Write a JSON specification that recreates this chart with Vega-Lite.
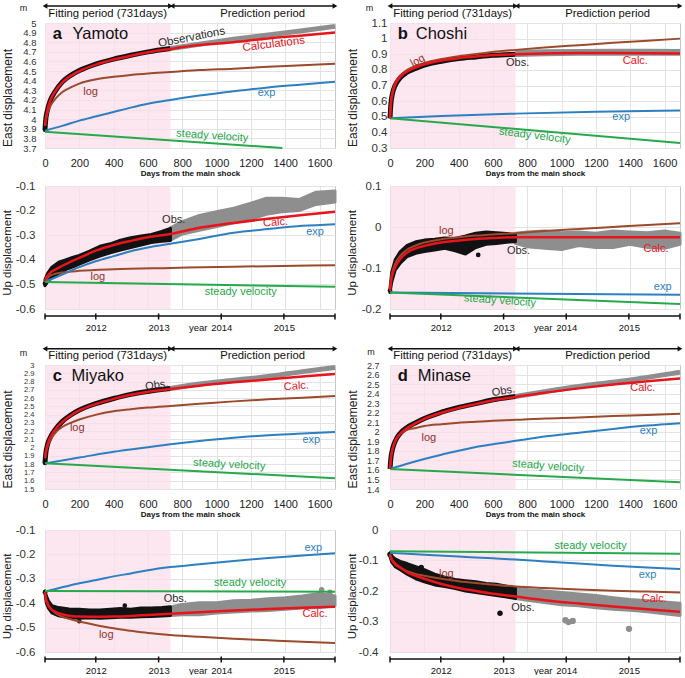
{
"$schema":"https://vega.github.io/schema/vega-lite/v6.json",
"padding":{"left":0,"top":2,"right":0,"bottom":0},
"config":{"font":"Liberation Sans","view":{"stroke":"#c6c6c6"},"axis":{"gridColor":"#e3e3e3","labelColor":"#333","titleColor":"#222","titleFontWeight":"normal","labelFont":"Liberation Sans","titleFont":"Liberation Sans"},"text":{"font":"Liberation Sans"}},
"datasets":{
"fit":[{"a":0,"b":731}],
"span":[{"a":0,"b":1690}],
"yrs":[{"d":0},{"d":296},{"d":662},{"d":1027},{"d":1392},{"d":1690}],
"arr":[{"a":0,"b":731},{"a":741,"b":1690}],
"arrt":[{"c":365,"t":"Fitting period  (731days)"},{"c":1268,"t":"Prediction period"}],
"nm":[{"p":"aE","l":"a","n":"Yamoto","u":"m"},{"p":"bE","l":"b","n":"Choshi","u":"m"},{"p":"cE","l":"c","n":"Miyako","u":"m"},{"p":"dE","l":"d","n":"Minase","u":"m"}],
"dots":[{"p":"aE","s":"fit","d":0,"v":3.89},{"p":"cE","s":"fit","d":0,"v":1.815},{"p":"aU","s":"fit","d":0,"v":-0.497},{"p":"bU","s":"fit","d":0,"v":-0.155},{"p":"bU","s":"fit","d":514,"v":-0.068},{"p":"cU","s":"fit","d":0,"v":-0.355},{"p":"cU","s":"fit","d":200,"v":-0.474},{"p":"cU","s":"fit","d":465,"v":-0.41},{"p":"cU","s":"pred","d":1612,"v":-0.345},{"p":"cU","s":"pred","d":1660,"v":-0.355},{"p":"dU","s":"fit","d":0,"v":-0.08},{"p":"dU","s":"fit","d":182,"v":-0.123},{"p":"dU","s":"fit","d":641,"v":-0.273},{"p":"dU","s":"pred","d":1022,"v":-0.296},{"p":"dU","s":"pred","d":1040,"v":-0.302},{"p":"dU","s":"pred","d":1065,"v":-0.298},{"p":"dU","s":"pred","d":1393,"v":-0.324},{"p":"dU","s":"pred","d":1600,"v":-0.262}],
"lab":[
{"p":"aE","k":"obs","t":"Observations","d":855,"v":4.847},{"p":"aE","k":"calc","t":"Calculations","d":1333,"v":4.778},{"p":"aE","k":"log","t":"log","d":266,"v":4.286},{"p":"aE","k":"exp","t":"exp","d":1291,"v":4.275},{"p":"aE","k":"steady","t":"steady velocity","d":975,"v":3.825},
{"p":"bE","k":"log","t":"log","d":162,"v":0.857},{"p":"bE","k":"obs","t":"Obs.","d":744,"v":0.846},{"p":"bE","k":"calc","t":"Calc.","d":1430,"v":0.857},{"p":"bE","k":"exp","t":"exp","d":1347,"v":0.498},{"p":"bE","k":"steady","t":"steady velocity","d":844,"v":0.377},
{"p":"cE","k":"obs","t":"Obs.","d":652,"v":2.754},{"p":"cE","k":"calc","t":"Calc.","d":1465,"v":2.742},{"p":"cE","k":"log","t":"log","d":188,"v":2.238},{"p":"cE","k":"exp","t":"exp","d":1552,"v":2.096},{"p":"cE","k":"steady","t":"steady velocity","d":1074,"v":1.794},
{"p":"dE","k":"obs","t":"Obs.","d":661,"v":2.424},{"p":"dE","k":"calc","t":"Calc.","d":1473,"v":2.459},{"p":"dE","k":"log","t":"log","d":226,"v":1.935},{"p":"dE","k":"exp","t":"exp","d":1507,"v":2.005},{"p":"dE","k":"steady","t":"steady velocity","d":922,"v":1.638},
{"p":"aU","k":"obs","t":"Obs.","d":750,"v":-0.239},{"p":"aU","k":"calc","t":"Calc.","d":1344,"v":-0.249},{"p":"aU","k":"exp","t":"exp","d":1574,"v":-0.289},{"p":"aU","k":"log","t":"log","d":308,"v":-0.468},{"p":"aU","k":"steady","t":"steady velocity","d":1141,"v":-0.53},
{"p":"bU","k":"log","t":"log","d":328,"v":-0.0095},{"p":"bU","k":"obs","t":"Obs.","d":749,"v":-0.058},{"p":"bU","k":"calc","t":"Calc.","d":1550,"v":-0.054},{"p":"bU","k":"exp","t":"exp","d":1589,"v":-0.147},{"p":"bU","k":"steady","t":"steady velocity","d":641,"v":-0.18},
{"p":"cU","k":"exp","t":"exp","d":1564,"v":-0.172},{"p":"cU","k":"steady","t":"steady velocity","d":1195,"v":-0.319},{"p":"cU","k":"obs","t":"Obs.","d":759,"v":-0.381},{"p":"cU","k":"calc","t":"Calc.","d":1574,"v":-0.4425},{"p":"cU","k":"log","t":"log","d":357,"v":-0.532},
{"p":"dU","k":"steady","t":"steady velocity","d":1169,"v":-0.052},{"p":"dU","k":"exp","t":"exp","d":1501,"v":-0.147},{"p":"dU","k":"log","t":"log","d":328,"v":-0.144},{"p":"dU","k":"calc","t":"Calc.","d":1540,"v":-0.225},{"p":"dU","k":"obs","t":"Obs.","d":774,"v":-0.257}],
"band":[
{"p":"aU","s":"fit","d":0,"lo":-0.505,"hi":-0.48},{"p":"aU","s":"fit","d":15,"lo":-0.49,"hi":-0.455},{"p":"aU","s":"fit","d":40,"lo":-0.47,"hi":-0.43},{"p":"aU","s":"fit","d":80,"lo":-0.455,"hi":-0.41},{"p":"aU","s":"fit","d":120,"lo":-0.44,"hi":-0.4},{"p":"aU","s":"fit","d":160,"lo":-0.43,"hi":-0.39},{"p":"aU","s":"fit","d":200,"lo":-0.418,"hi":-0.382},{"p":"aU","s":"fit","d":260,"lo":-0.4,"hi":-0.365},{"p":"aU","s":"fit","d":320,"lo":-0.385,"hi":-0.345},{"p":"aU","s":"fit","d":380,"lo":-0.372,"hi":-0.335},{"p":"aU","s":"fit","d":440,"lo":-0.36,"hi":-0.32},{"p":"aU","s":"fit","d":500,"lo":-0.35,"hi":-0.31},{"p":"aU","s":"fit","d":560,"lo":-0.34,"hi":-0.303},{"p":"aU","s":"fit","d":620,"lo":-0.33,"hi":-0.297},{"p":"aU","s":"fit","d":680,"lo":-0.325,"hi":-0.285},{"p":"aU","s":"fit","d":731,"lo":-0.322,"hi":-0.272},
{"p":"aU","s":"pred","d":731,"lo":-0.32,"hi":-0.27},{"p":"aU","s":"pred","d":800,"lo":-0.295,"hi":-0.245},{"p":"aU","s":"pred","d":900,"lo":-0.28,"hi":-0.22},{"p":"aU","s":"pred","d":1000,"lo":-0.265,"hi":-0.205},{"p":"aU","s":"pred","d":1100,"lo":-0.25,"hi":-0.19},{"p":"aU","s":"pred","d":1200,"lo":-0.235,"hi":-0.17},{"p":"aU","s":"pred","d":1290,"lo":-0.215,"hi":-0.15},{"p":"aU","s":"pred","d":1380,"lo":-0.205,"hi":-0.15},{"p":"aU","s":"pred","d":1480,"lo":-0.2,"hi":-0.155},{"p":"aU","s":"pred","d":1580,"lo":-0.175,"hi":-0.125},{"p":"aU","s":"pred","d":1690,"lo":-0.165,"hi":-0.12},
{"p":"bU","s":"fit","d":0,"lo":-0.16,"hi":-0.15},{"p":"bU","s":"fit","d":10,"lo":-0.135,"hi":-0.11},{"p":"bU","s":"fit","d":30,"lo":-0.105,"hi":-0.08},{"p":"bU","s":"fit","d":60,"lo":-0.088,"hi":-0.06},{"p":"bU","s":"fit","d":100,"lo":-0.072,"hi":-0.045},{"p":"bU","s":"fit","d":150,"lo":-0.064,"hi":-0.036},{"p":"bU","s":"fit","d":200,"lo":-0.06,"hi":-0.032},{"p":"bU","s":"fit","d":260,"lo":-0.056,"hi":-0.03},{"p":"bU","s":"fit","d":320,"lo":-0.052,"hi":-0.027},{"p":"bU","s":"fit","d":380,"lo":-0.058,"hi":-0.028},{"p":"bU","s":"fit","d":440,"lo":-0.066,"hi":-0.022},{"p":"bU","s":"fit","d":500,"lo":-0.05,"hi":-0.015},{"p":"bU","s":"fit","d":560,"lo":-0.042,"hi":-0.012},{"p":"bU","s":"fit","d":620,"lo":-0.04,"hi":-0.014},{"p":"bU","s":"fit","d":680,"lo":-0.037,"hi":-0.016},{"p":"bU","s":"fit","d":731,"lo":-0.036,"hi":-0.018},
{"p":"bU","s":"pred","d":731,"lo":-0.04,"hi":-0.015},{"p":"bU","s":"pred","d":800,"lo":-0.048,"hi":-0.012},{"p":"bU","s":"pred","d":900,"lo":-0.052,"hi":-0.01},{"p":"bU","s":"pred","d":1000,"lo":-0.055,"hi":-0.014},{"p":"bU","s":"pred","d":1100,"lo":-0.045,"hi":-0.012},{"p":"bU","s":"pred","d":1200,"lo":-0.05,"hi":-0.015},{"p":"bU","s":"pred","d":1300,"lo":-0.05,"hi":-0.01},{"p":"bU","s":"pred","d":1400,"lo":-0.042,"hi":-0.012},{"p":"bU","s":"pred","d":1500,"lo":-0.05,"hi":-0.014},{"p":"bU","s":"pred","d":1600,"lo":-0.052,"hi":-0.01},{"p":"bU","s":"pred","d":1690,"lo":-0.042,"hi":-0.015},
{"p":"cU","s":"fit","d":0,"lo":-0.36,"hi":-0.35},{"p":"cU","s":"fit","d":8,"lo":-0.4,"hi":-0.37},{"p":"cU","s":"fit","d":20,"lo":-0.42,"hi":-0.39},{"p":"cU","s":"fit","d":40,"lo":-0.44,"hi":-0.41},{"p":"cU","s":"fit","d":80,"lo":-0.452,"hi":-0.418},{"p":"cU","s":"fit","d":140,"lo":-0.46,"hi":-0.424},{"p":"cU","s":"fit","d":200,"lo":-0.462,"hi":-0.425},{"p":"cU","s":"fit","d":260,"lo":-0.46,"hi":-0.428},{"p":"cU","s":"fit","d":320,"lo":-0.462,"hi":-0.428},{"p":"cU","s":"fit","d":380,"lo":-0.46,"hi":-0.425},{"p":"cU","s":"fit","d":440,"lo":-0.458,"hi":-0.422},{"p":"cU","s":"fit","d":500,"lo":-0.458,"hi":-0.425},{"p":"cU","s":"fit","d":560,"lo":-0.456,"hi":-0.42},{"p":"cU","s":"fit","d":620,"lo":-0.455,"hi":-0.42},{"p":"cU","s":"fit","d":680,"lo":-0.452,"hi":-0.418},{"p":"cU","s":"fit","d":731,"lo":-0.45,"hi":-0.415},
{"p":"cU","s":"pred","d":731,"lo":-0.45,"hi":-0.415},{"p":"cU","s":"pred","d":800,"lo":-0.447,"hi":-0.405},{"p":"cU","s":"pred","d":900,"lo":-0.447,"hi":-0.398},{"p":"cU","s":"pred","d":1000,"lo":-0.44,"hi":-0.398},{"p":"cU","s":"pred","d":1100,"lo":-0.436,"hi":-0.39},{"p":"cU","s":"pred","d":1200,"lo":-0.432,"hi":-0.388},{"p":"cU","s":"pred","d":1300,"lo":-0.43,"hi":-0.382},{"p":"cU","s":"pred","d":1400,"lo":-0.425,"hi":-0.378},{"p":"cU","s":"pred","d":1500,"lo":-0.42,"hi":-0.37},{"p":"cU","s":"pred","d":1600,"lo":-0.418,"hi":-0.36},{"p":"cU","s":"pred","d":1690,"lo":-0.41,"hi":-0.37},
{"p":"dU","s":"fit","d":0,"lo":-0.088,"hi":-0.075},{"p":"dU","s":"fit","d":10,"lo":-0.105,"hi":-0.085},{"p":"dU","s":"fit","d":30,"lo":-0.12,"hi":-0.095},{"p":"dU","s":"fit","d":60,"lo":-0.13,"hi":-0.103},{"p":"dU","s":"fit","d":100,"lo":-0.145,"hi":-0.11},{"p":"dU","s":"fit","d":150,"lo":-0.16,"hi":-0.12},{"p":"dU","s":"fit","d":200,"lo":-0.17,"hi":-0.13},{"p":"dU","s":"fit","d":260,"lo":-0.18,"hi":-0.145},{"p":"dU","s":"fit","d":320,"lo":-0.185,"hi":-0.155},{"p":"dU","s":"fit","d":380,"lo":-0.192,"hi":-0.162},{"p":"dU","s":"fit","d":440,"lo":-0.2,"hi":-0.166},{"p":"dU","s":"fit","d":500,"lo":-0.205,"hi":-0.17},{"p":"dU","s":"fit","d":560,"lo":-0.21,"hi":-0.175},{"p":"dU","s":"fit","d":620,"lo":-0.215,"hi":-0.178},{"p":"dU","s":"fit","d":680,"lo":-0.22,"hi":-0.184},{"p":"dU","s":"fit","d":731,"lo":-0.225,"hi":-0.19},
{"p":"dU","s":"pred","d":731,"lo":-0.225,"hi":-0.19},{"p":"dU","s":"pred","d":800,"lo":-0.23,"hi":-0.195},{"p":"dU","s":"pred","d":900,"lo":-0.238,"hi":-0.2},{"p":"dU","s":"pred","d":1000,"lo":-0.245,"hi":-0.205},{"p":"dU","s":"pred","d":1100,"lo":-0.248,"hi":-0.21},{"p":"dU","s":"pred","d":1200,"lo":-0.255,"hi":-0.215},{"p":"dU","s":"pred","d":1300,"lo":-0.26,"hi":-0.222},{"p":"dU","s":"pred","d":1400,"lo":-0.263,"hi":-0.228},{"p":"dU","s":"pred","d":1500,"lo":-0.268,"hi":-0.232},{"p":"dU","s":"pred","d":1600,"lo":-0.275,"hi":-0.236},{"p":"dU","s":"pred","d":1690,"lo":-0.28,"hi":-0.24}],
"cur":[
{"p":"aE","s":"calc","d":0,"v":3.93},{"p":"aE","s":"calc","d":5,"v":4.0},{"p":"aE","s":"calc","d":15,"v":4.1},{"p":"aE","s":"calc","d":30,"v":4.19},{"p":"aE","s":"calc","d":60,"v":4.29},{"p":"aE","s":"calc","d":100,"v":4.38},{"p":"aE","s":"calc","d":150,"v":4.45},{"p":"aE","s":"calc","d":200,"v":4.5},{"p":"aE","s":"calc","d":300,"v":4.57},{"p":"aE","s":"calc","d":400,"v":4.62},{"p":"aE","s":"calc","d":500,"v":4.66},{"p":"aE","s":"calc","d":600,"v":4.695},{"p":"aE","s":"calc","d":731,"v":4.73},{"p":"aE","s":"calc","d":900,"v":4.77},{"p":"aE","s":"calc","d":1100,"v":4.8},{"p":"aE","s":"calc","d":1300,"v":4.84},{"p":"aE","s":"calc","d":1500,"v":4.87},{"p":"aE","s":"calc","d":1690,"v":4.9},
{"p":"aE","s":"log","d":0,"v":3.93},{"p":"aE","s":"log","d":5,"v":3.99},{"p":"aE","s":"log","d":15,"v":4.06},{"p":"aE","s":"log","d":30,"v":4.13},{"p":"aE","s":"log","d":60,"v":4.21},{"p":"aE","s":"log","d":100,"v":4.28},{"p":"aE","s":"log","d":150,"v":4.33},{"p":"aE","s":"log","d":200,"v":4.37},{"p":"aE","s":"log","d":300,"v":4.415},{"p":"aE","s":"log","d":400,"v":4.44},{"p":"aE","s":"log","d":500,"v":4.46},{"p":"aE","s":"log","d":600,"v":4.475},{"p":"aE","s":"log","d":731,"v":4.49},{"p":"aE","s":"log","d":900,"v":4.51},{"p":"aE","s":"log","d":1100,"v":4.525},{"p":"aE","s":"log","d":1300,"v":4.545},{"p":"aE","s":"log","d":1500,"v":4.56},{"p":"aE","s":"log","d":1690,"v":4.575},
{"p":"aE","s":"obsfit","d":0,"v":3.89},{"p":"aE","s":"obsfit","d":3,"v":3.97},{"p":"aE","s":"obsfit","d":15,"v":4.1},{"p":"aE","s":"obsfit","d":30,"v":4.19},{"p":"aE","s":"obsfit","d":60,"v":4.29},{"p":"aE","s":"obsfit","d":100,"v":4.385},{"p":"aE","s":"obsfit","d":150,"v":4.455},{"p":"aE","s":"obsfit","d":200,"v":4.505},{"p":"aE","s":"obsfit","d":300,"v":4.575},{"p":"aE","s":"obsfit","d":400,"v":4.625},{"p":"aE","s":"obsfit","d":500,"v":4.665},{"p":"aE","s":"obsfit","d":600,"v":4.7},{"p":"aE","s":"obsfit","d":731,"v":4.735},
{"p":"aE","s":"obspred","d":731,"v":4.735},{"p":"aE","s":"obspred","d":900,"v":4.78},{"p":"aE","s":"obspred","d":1100,"v":4.83},{"p":"aE","s":"obspred","d":1300,"v":4.875},{"p":"aE","s":"obspred","d":1500,"v":4.92},{"p":"aE","s":"obspred","d":1690,"v":4.965},
{"p":"aE","s":"exp","d":0,"v":3.88},{"p":"aE","s":"exp","d":100,"v":3.93},{"p":"aE","s":"exp","d":200,"v":3.985},{"p":"aE","s":"exp","d":300,"v":4.03},{"p":"aE","s":"exp","d":400,"v":4.075},{"p":"aE","s":"exp","d":500,"v":4.12},{"p":"aE","s":"exp","d":600,"v":4.16},{"p":"aE","s":"exp","d":731,"v":4.2},{"p":"aE","s":"exp","d":900,"v":4.245},{"p":"aE","s":"exp","d":1100,"v":4.29},{"p":"aE","s":"exp","d":1300,"v":4.33},{"p":"aE","s":"exp","d":1500,"v":4.36},{"p":"aE","s":"exp","d":1690,"v":4.39},
{"p":"aE","s":"steady","d":0,"v":3.87},{"p":"aE","s":"steady","d":1383,"v":3.7},
{"p":"bE","s":"calc","d":0,"v":0.49},{"p":"bE","s":"calc","d":5,"v":0.58},{"p":"bE","s":"calc","d":15,"v":0.65},{"p":"bE","s":"calc","d":30,"v":0.705},{"p":"bE","s":"calc","d":60,"v":0.755},{"p":"bE","s":"calc","d":100,"v":0.79},{"p":"bE","s":"calc","d":150,"v":0.815},{"p":"bE","s":"calc","d":200,"v":0.835},{"p":"bE","s":"calc","d":300,"v":0.86},{"p":"bE","s":"calc","d":400,"v":0.875},{"p":"bE","s":"calc","d":500,"v":0.885},{"p":"bE","s":"calc","d":600,"v":0.895},{"p":"bE","s":"calc","d":731,"v":0.9},{"p":"bE","s":"calc","d":900,"v":0.905},{"p":"bE","s":"calc","d":1100,"v":0.908},{"p":"bE","s":"calc","d":1300,"v":0.908},{"p":"bE","s":"calc","d":1500,"v":0.907},{"p":"bE","s":"calc","d":1690,"v":0.905},
{"p":"bE","s":"log","d":0,"v":0.49},{"p":"bE","s":"log","d":5,"v":0.59},{"p":"bE","s":"log","d":15,"v":0.66},{"p":"bE","s":"log","d":30,"v":0.715},{"p":"bE","s":"log","d":60,"v":0.765},{"p":"bE","s":"log","d":100,"v":0.8},{"p":"bE","s":"log","d":150,"v":0.825},{"p":"bE","s":"log","d":200,"v":0.845},{"p":"bE","s":"log","d":300,"v":0.87},{"p":"bE","s":"log","d":400,"v":0.888},{"p":"bE","s":"log","d":500,"v":0.902},{"p":"bE","s":"log","d":600,"v":0.915},{"p":"bE","s":"log","d":731,"v":0.928},{"p":"bE","s":"log","d":900,"v":0.943},{"p":"bE","s":"log","d":1100,"v":0.958},{"p":"bE","s":"log","d":1300,"v":0.973},{"p":"bE","s":"log","d":1500,"v":0.987},{"p":"bE","s":"log","d":1690,"v":1.0},
{"p":"bE","s":"obsfit","d":0,"v":0.49},{"p":"bE","s":"obsfit","d":5,"v":0.58},{"p":"bE","s":"obsfit","d":15,"v":0.65},{"p":"bE","s":"obsfit","d":30,"v":0.7},{"p":"bE","s":"obsfit","d":60,"v":0.75},{"p":"bE","s":"obsfit","d":100,"v":0.785},{"p":"bE","s":"obsfit","d":150,"v":0.81},{"p":"bE","s":"obsfit","d":200,"v":0.83},{"p":"bE","s":"obsfit","d":300,"v":0.855},{"p":"bE","s":"obsfit","d":400,"v":0.872},{"p":"bE","s":"obsfit","d":500,"v":0.883},{"p":"bE","s":"obsfit","d":600,"v":0.893},{"p":"bE","s":"obsfit","d":731,"v":0.9},
{"p":"bE","s":"obspred","d":731,"v":0.905},{"p":"bE","s":"obspred","d":900,"v":0.91},{"p":"bE","s":"obspred","d":1100,"v":0.912},{"p":"bE","s":"obspred","d":1300,"v":0.913},{"p":"bE","s":"obspred","d":1500,"v":0.913},{"p":"bE","s":"obspred","d":1690,"v":0.912},
{"p":"bE","s":"exp","d":0,"v":0.49},{"p":"bE","s":"exp","d":300,"v":0.505},{"p":"bE","s":"exp","d":731,"v":0.52},{"p":"bE","s":"exp","d":1200,"v":0.532},{"p":"bE","s":"exp","d":1690,"v":0.54},
{"p":"bE","s":"steady","d":0,"v":0.49},{"p":"bE","s":"steady","d":1690,"v":0.332},
{"p":"cE","s":"calc","d":0,"v":1.88},{"p":"cE","s":"calc","d":5,"v":1.95},{"p":"cE","s":"calc","d":15,"v":2.04},{"p":"cE","s":"calc","d":30,"v":2.12},{"p":"cE","s":"calc","d":60,"v":2.22},{"p":"cE","s":"calc","d":100,"v":2.31},{"p":"cE","s":"calc","d":150,"v":2.39},{"p":"cE","s":"calc","d":200,"v":2.45},{"p":"cE","s":"calc","d":300,"v":2.53},{"p":"cE","s":"calc","d":400,"v":2.59},{"p":"cE","s":"calc","d":500,"v":2.64},{"p":"cE","s":"calc","d":600,"v":2.675},{"p":"cE","s":"calc","d":731,"v":2.71},{"p":"cE","s":"calc","d":900,"v":2.75},{"p":"cE","s":"calc","d":1100,"v":2.79},{"p":"cE","s":"calc","d":1300,"v":2.825},{"p":"cE","s":"calc","d":1500,"v":2.86},{"p":"cE","s":"calc","d":1690,"v":2.89},
{"p":"cE","s":"log","d":0,"v":1.87},{"p":"cE","s":"log","d":5,"v":1.93},{"p":"cE","s":"log","d":15,"v":2.01},{"p":"cE","s":"log","d":30,"v":2.09},{"p":"cE","s":"log","d":60,"v":2.18},{"p":"cE","s":"log","d":100,"v":2.25},{"p":"cE","s":"log","d":150,"v":2.3},{"p":"cE","s":"log","d":200,"v":2.34},{"p":"cE","s":"log","d":300,"v":2.4},{"p":"cE","s":"log","d":400,"v":2.44},{"p":"cE","s":"log","d":500,"v":2.465},{"p":"cE","s":"log","d":600,"v":2.485},{"p":"cE","s":"log","d":731,"v":2.505},{"p":"cE","s":"log","d":900,"v":2.53},{"p":"cE","s":"log","d":1100,"v":2.56},{"p":"cE","s":"log","d":1300,"v":2.585},{"p":"cE","s":"log","d":1500,"v":2.605},{"p":"cE","s":"log","d":1690,"v":2.625},
{"p":"cE","s":"obsfit","d":0,"v":1.815},{"p":"cE","s":"obsfit","d":3,"v":1.9},{"p":"cE","s":"obsfit","d":15,"v":2.04},{"p":"cE","s":"obsfit","d":30,"v":2.12},{"p":"cE","s":"obsfit","d":60,"v":2.22},{"p":"cE","s":"obsfit","d":100,"v":2.315},{"p":"cE","s":"obsfit","d":150,"v":2.395},{"p":"cE","s":"obsfit","d":200,"v":2.455},{"p":"cE","s":"obsfit","d":300,"v":2.535},{"p":"cE","s":"obsfit","d":400,"v":2.595},{"p":"cE","s":"obsfit","d":500,"v":2.645},{"p":"cE","s":"obsfit","d":600,"v":2.68},{"p":"cE","s":"obsfit","d":731,"v":2.715},
{"p":"cE","s":"obspred","d":731,"v":2.715},{"p":"cE","s":"obspred","d":900,"v":2.77},{"p":"cE","s":"obspred","d":1100,"v":2.815},{"p":"cE","s":"obspred","d":1300,"v":2.86},{"p":"cE","s":"obspred","d":1500,"v":2.92},{"p":"cE","s":"obspred","d":1690,"v":2.97},
{"p":"cE","s":"exp","d":0,"v":1.81},{"p":"cE","s":"exp","d":200,"v":1.88},{"p":"cE","s":"exp","d":400,"v":1.95},{"p":"cE","s":"exp","d":600,"v":2.005},{"p":"cE","s":"exp","d":731,"v":2.04},{"p":"cE","s":"exp","d":900,"v":2.08},{"p":"cE","s":"exp","d":1100,"v":2.12},{"p":"cE","s":"exp","d":1300,"v":2.15},{"p":"cE","s":"exp","d":1500,"v":2.17},{"p":"cE","s":"exp","d":1690,"v":2.19},
{"p":"cE","s":"steady","d":0,"v":1.81},{"p":"cE","s":"steady","d":1690,"v":1.63},
{"p":"dE","s":"calc","d":0,"v":1.61},{"p":"dE","s":"calc","d":5,"v":1.72},{"p":"dE","s":"calc","d":15,"v":1.82},{"p":"dE","s":"calc","d":30,"v":1.9},{"p":"dE","s":"calc","d":60,"v":1.98},{"p":"dE","s":"calc","d":100,"v":2.04},{"p":"dE","s":"calc","d":150,"v":2.09},{"p":"dE","s":"calc","d":200,"v":2.135},{"p":"dE","s":"calc","d":300,"v":2.2},{"p":"dE","s":"calc","d":400,"v":2.25},{"p":"dE","s":"calc","d":500,"v":2.29},{"p":"dE","s":"calc","d":600,"v":2.33},{"p":"dE","s":"calc","d":731,"v":2.365},{"p":"dE","s":"calc","d":900,"v":2.41},{"p":"dE","s":"calc","d":1100,"v":2.455},{"p":"dE","s":"calc","d":1300,"v":2.495},{"p":"dE","s":"calc","d":1500,"v":2.53},{"p":"dE","s":"calc","d":1690,"v":2.56},
{"p":"dE","s":"log","d":0,"v":1.61},{"p":"dE","s":"log","d":5,"v":1.72},{"p":"dE","s":"log","d":15,"v":1.82},{"p":"dE","s":"log","d":30,"v":1.9},{"p":"dE","s":"log","d":60,"v":1.975},{"p":"dE","s":"log","d":100,"v":2.02},{"p":"dE","s":"log","d":150,"v":2.04},{"p":"dE","s":"log","d":200,"v":2.06},{"p":"dE","s":"log","d":300,"v":2.08},{"p":"dE","s":"log","d":400,"v":2.095},{"p":"dE","s":"log","d":500,"v":2.105},{"p":"dE","s":"log","d":600,"v":2.115},{"p":"dE","s":"log","d":731,"v":2.125},{"p":"dE","s":"log","d":900,"v":2.14},{"p":"dE","s":"log","d":1100,"v":2.15},{"p":"dE","s":"log","d":1300,"v":2.165},{"p":"dE","s":"log","d":1500,"v":2.175},{"p":"dE","s":"log","d":1690,"v":2.19},
{"p":"dE","s":"obsfit","d":0,"v":1.61},{"p":"dE","s":"obsfit","d":5,"v":1.72},{"p":"dE","s":"obsfit","d":15,"v":1.82},{"p":"dE","s":"obsfit","d":30,"v":1.9},{"p":"dE","s":"obsfit","d":60,"v":1.985},{"p":"dE","s":"obsfit","d":100,"v":2.045},{"p":"dE","s":"obsfit","d":150,"v":2.095},{"p":"dE","s":"obsfit","d":200,"v":2.14},{"p":"dE","s":"obsfit","d":300,"v":2.205},{"p":"dE","s":"obsfit","d":400,"v":2.255},{"p":"dE","s":"obsfit","d":500,"v":2.295},{"p":"dE","s":"obsfit","d":600,"v":2.335},{"p":"dE","s":"obsfit","d":731,"v":2.37},
{"p":"dE","s":"obspred","d":731,"v":2.37},{"p":"dE","s":"obspred","d":900,"v":2.42},{"p":"dE","s":"obspred","d":1100,"v":2.475},{"p":"dE","s":"obspred","d":1300,"v":2.52},{"p":"dE","s":"obspred","d":1500,"v":2.57},{"p":"dE","s":"obspred","d":1690,"v":2.625},
{"p":"dE","s":"exp","d":0,"v":1.61},{"p":"dE","s":"exp","d":100,"v":1.665},{"p":"dE","s":"exp","d":200,"v":1.715},{"p":"dE","s":"exp","d":300,"v":1.76},{"p":"dE","s":"exp","d":400,"v":1.8},{"p":"dE","s":"exp","d":500,"v":1.84},{"p":"dE","s":"exp","d":600,"v":1.87},{"p":"dE","s":"exp","d":731,"v":1.905},{"p":"dE","s":"exp","d":900,"v":1.95},{"p":"dE","s":"exp","d":1100,"v":1.99},{"p":"dE","s":"exp","d":1300,"v":2.03},{"p":"dE","s":"exp","d":1500,"v":2.065},{"p":"dE","s":"exp","d":1690,"v":2.09},
{"p":"dE","s":"steady","d":0,"v":1.61},{"p":"dE","s":"steady","d":1690,"v":1.47},
{"p":"aU","s":"calc","d":0,"v":-0.485},{"p":"aU","s":"calc","d":5,"v":-0.475},{"p":"aU","s":"calc","d":15,"v":-0.465},{"p":"aU","s":"calc","d":30,"v":-0.453},{"p":"aU","s":"calc","d":60,"v":-0.44},{"p":"aU","s":"calc","d":100,"v":-0.425},{"p":"aU","s":"calc","d":150,"v":-0.407},{"p":"aU","s":"calc","d":200,"v":-0.392},{"p":"aU","s":"calc","d":300,"v":-0.362},{"p":"aU","s":"calc","d":400,"v":-0.34},{"p":"aU","s":"calc","d":500,"v":-0.323},{"p":"aU","s":"calc","d":600,"v":-0.308},{"p":"aU","s":"calc","d":731,"v":-0.295},{"p":"aU","s":"calc","d":900,"v":-0.27},{"p":"aU","s":"calc","d":1100,"v":-0.25},{"p":"aU","s":"calc","d":1300,"v":-0.233},{"p":"aU","s":"calc","d":1500,"v":-0.218},{"p":"aU","s":"calc","d":1690,"v":-0.205},
{"p":"aU","s":"exp","d":0,"v":-0.49},{"p":"aU","s":"exp","d":100,"v":-0.46},{"p":"aU","s":"exp","d":200,"v":-0.43},{"p":"aU","s":"exp","d":300,"v":-0.405},{"p":"aU","s":"exp","d":400,"v":-0.385},{"p":"aU","s":"exp","d":500,"v":-0.365},{"p":"aU","s":"exp","d":600,"v":-0.35},{"p":"aU","s":"exp","d":731,"v":-0.335},{"p":"aU","s":"exp","d":900,"v":-0.315},{"p":"aU","s":"exp","d":1100,"v":-0.29},{"p":"aU","s":"exp","d":1300,"v":-0.275},{"p":"aU","s":"exp","d":1500,"v":-0.262},{"p":"aU","s":"exp","d":1690,"v":-0.255},
{"p":"aU","s":"log","d":0,"v":-0.49},{"p":"aU","s":"log","d":15,"v":-0.475},{"p":"aU","s":"log","d":30,"v":-0.465},{"p":"aU","s":"log","d":60,"v":-0.457},{"p":"aU","s":"log","d":100,"v":-0.452},{"p":"aU","s":"log","d":200,"v":-0.445},{"p":"aU","s":"log","d":400,"v":-0.438},{"p":"aU","s":"log","d":731,"v":-0.433},{"p":"aU","s":"log","d":1100,"v":-0.428},{"p":"aU","s":"log","d":1690,"v":-0.422},
{"p":"aU","s":"steady","d":0,"v":-0.49},{"p":"aU","s":"steady","d":1690,"v":-0.51},
{"p":"bU","s":"calc","d":0,"v":-0.155},{"p":"bU","s":"calc","d":5,"v":-0.135},{"p":"bU","s":"calc","d":15,"v":-0.115},{"p":"bU","s":"calc","d":30,"v":-0.098},{"p":"bU","s":"calc","d":60,"v":-0.078},{"p":"bU","s":"calc","d":100,"v":-0.062},{"p":"bU","s":"calc","d":150,"v":-0.052},{"p":"bU","s":"calc","d":200,"v":-0.046},{"p":"bU","s":"calc","d":300,"v":-0.038},{"p":"bU","s":"calc","d":400,"v":-0.033},{"p":"bU","s":"calc","d":500,"v":-0.029},{"p":"bU","s":"calc","d":600,"v":-0.027},{"p":"bU","s":"calc","d":731,"v":-0.025},{"p":"bU","s":"calc","d":900,"v":-0.025},{"p":"bU","s":"calc","d":1100,"v":-0.025},{"p":"bU","s":"calc","d":1300,"v":-0.025},{"p":"bU","s":"calc","d":1500,"v":-0.025},{"p":"bU","s":"calc","d":1690,"v":-0.025},
{"p":"bU","s":"log","d":0,"v":-0.155},{"p":"bU","s":"log","d":5,"v":-0.13},{"p":"bU","s":"log","d":15,"v":-0.108},{"p":"bU","s":"log","d":30,"v":-0.09},{"p":"bU","s":"log","d":60,"v":-0.07},{"p":"bU","s":"log","d":100,"v":-0.055},{"p":"bU","s":"log","d":150,"v":-0.045},{"p":"bU","s":"log","d":200,"v":-0.038},{"p":"bU","s":"log","d":300,"v":-0.03},{"p":"bU","s":"log","d":400,"v":-0.025},{"p":"bU","s":"log","d":500,"v":-0.021},{"p":"bU","s":"log","d":600,"v":-0.018},{"p":"bU","s":"log","d":731,"v":-0.015},{"p":"bU","s":"log","d":900,"v":-0.01},{"p":"bU","s":"log","d":1100,"v":-0.005},{"p":"bU","s":"log","d":1300,"v":0.0},{"p":"bU","s":"log","d":1500,"v":0.005},{"p":"bU","s":"log","d":1690,"v":0.009},
{"p":"bU","s":"exp","d":0,"v":-0.16},{"p":"bU","s":"exp","d":1690,"v":-0.165},
{"p":"bU","s":"steady","d":0,"v":-0.16},{"p":"bU","s":"steady","d":1690,"v":-0.188},
{"p":"cU","s":"calc","d":0,"v":-0.355},{"p":"cU","s":"calc","d":5,"v":-0.38},{"p":"cU","s":"calc","d":15,"v":-0.4},{"p":"cU","s":"calc","d":30,"v":-0.42},{"p":"cU","s":"calc","d":60,"v":-0.435},{"p":"cU","s":"calc","d":100,"v":-0.445},{"p":"cU","s":"calc","d":150,"v":-0.452},{"p":"cU","s":"calc","d":200,"v":-0.455},{"p":"cU","s":"calc","d":300,"v":-0.456},{"p":"cU","s":"calc","d":400,"v":-0.455},{"p":"cU","s":"calc","d":500,"v":-0.452},{"p":"cU","s":"calc","d":600,"v":-0.448},{"p":"cU","s":"calc","d":731,"v":-0.443},{"p":"cU","s":"calc","d":900,"v":-0.437},{"p":"cU","s":"calc","d":1100,"v":-0.43},{"p":"cU","s":"calc","d":1300,"v":-0.424},{"p":"cU","s":"calc","d":1500,"v":-0.419},{"p":"cU","s":"calc","d":1690,"v":-0.415},
{"p":"cU","s":"log","d":0,"v":-0.355},{"p":"cU","s":"log","d":5,"v":-0.385},{"p":"cU","s":"log","d":15,"v":-0.405},{"p":"cU","s":"log","d":30,"v":-0.42},{"p":"cU","s":"log","d":60,"v":-0.44},{"p":"cU","s":"log","d":100,"v":-0.455},{"p":"cU","s":"log","d":150,"v":-0.466},{"p":"cU","s":"log","d":200,"v":-0.475},{"p":"cU","s":"log","d":300,"v":-0.49},{"p":"cU","s":"log","d":400,"v":-0.503},{"p":"cU","s":"log","d":500,"v":-0.513},{"p":"cU","s":"log","d":600,"v":-0.522},{"p":"cU","s":"log","d":731,"v":-0.53},{"p":"cU","s":"log","d":900,"v":-0.538},{"p":"cU","s":"log","d":1100,"v":-0.546},{"p":"cU","s":"log","d":1300,"v":-0.552},{"p":"cU","s":"log","d":1500,"v":-0.558},{"p":"cU","s":"log","d":1690,"v":-0.563},
{"p":"cU","s":"exp","d":0,"v":-0.352},{"p":"cU","s":"exp","d":100,"v":-0.335},{"p":"cU","s":"exp","d":200,"v":-0.318},{"p":"cU","s":"exp","d":300,"v":-0.305},{"p":"cU","s":"exp","d":400,"v":-0.29},{"p":"cU","s":"exp","d":500,"v":-0.278},{"p":"cU","s":"exp","d":600,"v":-0.265},{"p":"cU","s":"exp","d":731,"v":-0.252},{"p":"cU","s":"exp","d":900,"v":-0.24},{"p":"cU","s":"exp","d":1100,"v":-0.227},{"p":"cU","s":"exp","d":1300,"v":-0.215},{"p":"cU","s":"exp","d":1500,"v":-0.205},{"p":"cU","s":"exp","d":1690,"v":-0.195},
{"p":"cU","s":"steady","d":0,"v":-0.35},{"p":"cU","s":"steady","d":1690,"v":-0.353},
{"p":"dU","s":"calc","d":0,"v":-0.08},{"p":"dU","s":"calc","d":5,"v":-0.09},{"p":"dU","s":"calc","d":15,"v":-0.1},{"p":"dU","s":"calc","d":30,"v":-0.11},{"p":"dU","s":"calc","d":60,"v":-0.122},{"p":"dU","s":"calc","d":100,"v":-0.138},{"p":"dU","s":"calc","d":150,"v":-0.15},{"p":"dU","s":"calc","d":200,"v":-0.16},{"p":"dU","s":"calc","d":300,"v":-0.177},{"p":"dU","s":"calc","d":400,"v":-0.19},{"p":"dU","s":"calc","d":500,"v":-0.2},{"p":"dU","s":"calc","d":600,"v":-0.209},{"p":"dU","s":"calc","d":731,"v":-0.218},{"p":"dU","s":"calc","d":900,"v":-0.23},{"p":"dU","s":"calc","d":1100,"v":-0.241},{"p":"dU","s":"calc","d":1300,"v":-0.251},{"p":"dU","s":"calc","d":1500,"v":-0.26},{"p":"dU","s":"calc","d":1690,"v":-0.268},
{"p":"dU","s":"log","d":0,"v":-0.08},{"p":"dU","s":"log","d":5,"v":-0.092},{"p":"dU","s":"log","d":15,"v":-0.103},{"p":"dU","s":"log","d":30,"v":-0.113},{"p":"dU","s":"log","d":60,"v":-0.124},{"p":"dU","s":"log","d":100,"v":-0.135},{"p":"dU","s":"log","d":150,"v":-0.144},{"p":"dU","s":"log","d":200,"v":-0.15},{"p":"dU","s":"log","d":300,"v":-0.16},{"p":"dU","s":"log","d":400,"v":-0.168},{"p":"dU","s":"log","d":500,"v":-0.174},{"p":"dU","s":"log","d":600,"v":-0.179},{"p":"dU","s":"log","d":731,"v":-0.185},{"p":"dU","s":"log","d":900,"v":-0.19},{"p":"dU","s":"log","d":1100,"v":-0.195},{"p":"dU","s":"log","d":1300,"v":-0.199},{"p":"dU","s":"log","d":1500,"v":-0.202},{"p":"dU","s":"log","d":1690,"v":-0.205},
{"p":"dU","s":"exp","d":0,"v":-0.075},{"p":"dU","s":"exp","d":200,"v":-0.081},{"p":"dU","s":"exp","d":400,"v":-0.087},{"p":"dU","s":"exp","d":600,"v":-0.093},{"p":"dU","s":"exp","d":731,"v":-0.097},{"p":"dU","s":"exp","d":900,"v":-0.103},{"p":"dU","s":"exp","d":1100,"v":-0.11},{"p":"dU","s":"exp","d":1300,"v":-0.117},{"p":"dU","s":"exp","d":1500,"v":-0.123},{"p":"dU","s":"exp","d":1690,"v":-0.128},
{"p":"dU","s":"steady","d":0,"v":-0.07},{"p":"dU","s":"steady","d":1690,"v":-0.078}]
},
"spacing":13,
"vconcat":[
{"concat":[
{"width":290,"height":125,"layer":[
{"data":{"name":"fit"},"mark":{"type":"rect","color":"#fbdde9","opacity":0.75},"encoding":{"x":{"field":"a","type":"quantitative","scale":{"domain":[0,1690],"nice":false,"zero":false},"axis":{"values":[0,200,400,600,800,1000,1200,1400,1600],"tickCount":50,"format":"d","domain":false,"ticks":false,"labelOverlap":false,"title":"Days from the main shock","titleFontSize":8,"titleFontWeight":"bold","titlePadding":1,"titleColor":"#111","labelFontSize":11,"labelPadding":9,"labelFlush":false,"labelColor":"#222","grid":true}},"x2":{"field":"b"}}},
{"data":{"name":"cur"},"transform":[{"filter":"datum.p=='aE' && datum.s=='obspred'"}],"mark":{"type":"line","color":"#8e8e8e","strokeWidth":5,"interpolate":"monotone"},"encoding":{"x":{"field":"d","type":"quantitative"},"y":{"field":"v","type":"quantitative","scale":{"domain":[3.7,5],"nice":false,"zero":false},"axis":{"values":[3.7,3.8,3.9,4,4.1,4.2,4.3,4.4,4.5,4.6,4.7,4.8,4.9,5],"tickCount":50,"domain":false,"ticks":false,"labelExpr":"''+datum.value","title":"East displacement","titleFontSize":12,"titleX":-37.5,"titleY":74.5,"titleBaseline":"middle","labelFontSize":9.5,"labelPadding":9,"labelOverlap":false,"grid":true}}}},
{"data":{"name":"cur"},"transform":[{"filter":"datum.p=='aE' && datum.s=='obsfit'"}],"mark":{"type":"line","color":"#121212","strokeWidth":5,"interpolate":"monotone"},"encoding":{"x":{"field":"d","type":"quantitative"},"y":{"field":"v","type":"quantitative"}}},
{"data":{"name":"dots"},"transform":[{"filter":"datum.p=='aE'"}],"mark":{"type":"circle","color":"#121212","size":22,"opacity":1},"encoding":{"x":{"field":"d","type":"quantitative"},"y":{"field":"v","type":"quantitative"}}},
{"data":{"name":"cur"},"transform":[{"filter":"datum.p=='aE' && datum.s=='log'"}],"mark":{"type":"line","color":"#9b4a2c","strokeWidth":2,"interpolate":"monotone"},"encoding":{"x":{"field":"d","type":"quantitative"},"y":{"field":"v","type":"quantitative"}}},
{"data":{"name":"cur"},"transform":[{"filter":"datum.p=='aE' && datum.s=='exp'"}],"mark":{"type":"line","color":"#2d7fc1","strokeWidth":2,"interpolate":"monotone"},"encoding":{"x":{"field":"d","type":"quantitative"},"y":{"field":"v","type":"quantitative"}}},
{"data":{"name":"cur"},"transform":[{"filter":"datum.p=='aE' && datum.s=='steady'"}],"mark":{"type":"line","color":"#26a94a","strokeWidth":2},"encoding":{"x":{"field":"d","type":"quantitative"},"y":{"field":"v","type":"quantitative"}}},
{"data":{"name":"cur"},"transform":[{"filter":"datum.p=='aE' && datum.s=='calc'"}],"mark":{"type":"line","color":"#e8141c","strokeWidth":2.5,"interpolate":"monotone"},"encoding":{"x":{"field":"d","type":"quantitative"},"y":{"field":"v","type":"quantitative"}}},
{"data":{"name":"lab"},"transform":[{"filter":"datum.p=='aE' && (datum.k=='log' || datum.k=='exp')"}],"mark":{"type":"text","fontSize":11},"encoding":{"x":{"field":"d","type":"quantitative"},"y":{"field":"v","type":"quantitative"},"text":{"field":"t"},"color":{"field":"k","type":"nominal","scale":{"domain":["obs","calc","log","exp","steady"],"range":["#2a2a2a","#e8141c","#93332b","#2d7fc1","#24a848"]},"legend":null}}},
{"data":{"name":"lab"},"transform":[{"filter":"datum.p=='aE' && datum.k=='obs'"}],"mark":{"type":"text","fontSize":11.5,"angle":349,"color":"#2a2a2a"},"encoding":{"x":{"field":"d","type":"quantitative"},"y":{"field":"v","type":"quantitative"},"text":{"field":"t"}}},
{"data":{"name":"lab"},"transform":[{"filter":"datum.p=='aE' && datum.k=='calc'"}],"mark":{"type":"text","fontSize":11.5,"angle":353,"color":"#e8141c"},"encoding":{"x":{"field":"d","type":"quantitative"},"y":{"field":"v","type":"quantitative"},"text":{"field":"t"}}},
{"data":{"name":"lab"},"transform":[{"filter":"datum.p=='aE' && datum.k=='steady'"}],"mark":{"type":"text","fontSize":11,"angle":4,"color":"#24a848"},"encoding":{"x":{"field":"d","type":"quantitative"},"y":{"field":"v","type":"quantitative"},"text":{"field":"t"}}},
{"data":{"name":"arr"},"mark":{"type":"rule","color":"#111","strokeWidth":1.5},"encoding":{"x":{"field":"a","type":"quantitative"},"x2":{"field":"b"},"y":{"datum":5.177,"type":"quantitative"}}},
{"data":{"name":"arr"},"mark":{"type":"point","shape":"triangle-left","filled":true,"color":"#111","size":30,"opacity":1},"encoding":{"x":{"field":"a","type":"quantitative"},"y":{"datum":5.177,"type":"quantitative"}}},
{"data":{"name":"arr"},"mark":{"type":"point","shape":"triangle-right","filled":true,"color":"#111","size":30,"opacity":1},"encoding":{"x":{"field":"b","type":"quantitative"},"y":{"datum":5.177,"type":"quantitative"}}},
{"data":{"name":"arrt"},"mark":{"type":"text","fontSize":11.3,"color":"#111"},"encoding":{"x":{"field":"c","type":"quantitative"},"y":{"datum":5.097,"type":"quantitative"},"text":{"field":"t"}}},
{"data":{"name":"nm"},"transform":[{"filter":"datum.p=='aE'"}],"mark":{"type":"text","align":"left","fontSize":16.5,"fontWeight":"bold","color":"#111"},"encoding":{"x":{"datum":45,"type":"quantitative"},"y":{"datum":4.886,"type":"quantitative"},"text":{"field":"l"}}},
{"data":{"name":"nm"},"transform":[{"filter":"datum.p=='aE'"}],"mark":{"type":"text","align":"left","fontSize":16.5,"color":"#111"},"encoding":{"x":{"datum":160,"type":"quantitative"},"y":{"datum":4.886,"type":"quantitative"},"text":{"field":"n"}}},
{"data":{"name":"nm"},"transform":[{"filter":"datum.p=='aE'"}],"mark":{"type":"text","fontSize":9,"color":"#222"},"encoding":{"x":{"datum":-125,"type":"quantitative"},"y":{"datum":5.156,"type":"quantitative"},"text":{"field":"u"}}}
]},
{"width":290,"height":125,"layer":[
{"data":{"name":"fit"},"mark":{"type":"rect","color":"#fbdde9","opacity":0.75},"encoding":{"x":{"field":"a","type":"quantitative","scale":{"domain":[0,1690],"nice":false,"zero":false},"axis":{"values":[0,200,400,600,800,1000,1200,1400,1600],"tickCount":50,"format":"d","domain":false,"ticks":false,"labelOverlap":false,"title":"Days from the main shock","titleFontSize":8,"titleFontWeight":"bold","titlePadding":1,"titleColor":"#111","labelFontSize":11,"labelPadding":9,"labelFlush":false,"labelColor":"#222","grid":true}},"x2":{"field":"b"}}},
{"data":{"name":"cur"},"transform":[{"filter":"datum.p=='bE' && datum.s=='obspred'"}],"mark":{"type":"line","color":"#8e8e8e","strokeWidth":7,"interpolate":"monotone"},"encoding":{"x":{"field":"d","type":"quantitative"},"y":{"field":"v","type":"quantitative","scale":{"domain":[0.3,1.1],"nice":false,"zero":false},"axis":{"values":[0.3,0.4,0.5,0.6,0.7,0.8,0.9,1,1.1],"tickCount":50,"domain":false,"ticks":false,"labelExpr":"''+datum.value","title":"East displacement","titleFontSize":12,"titleX":-37.5,"titleY":74.5,"titleBaseline":"middle","labelFontSize":11.5,"labelPadding":3,"labelOverlap":false,"grid":true}}}},
{"data":{"name":"cur"},"transform":[{"filter":"datum.p=='bE' && datum.s=='obsfit'"}],"mark":{"type":"line","color":"#121212","strokeWidth":5,"interpolate":"monotone"},"encoding":{"x":{"field":"d","type":"quantitative"},"y":{"field":"v","type":"quantitative"}}},
{"data":{"name":"cur"},"transform":[{"filter":"datum.p=='bE' && datum.s=='log'"}],"mark":{"type":"line","color":"#9b4a2c","strokeWidth":2,"interpolate":"monotone"},"encoding":{"x":{"field":"d","type":"quantitative"},"y":{"field":"v","type":"quantitative"}}},
{"data":{"name":"cur"},"transform":[{"filter":"datum.p=='bE' && datum.s=='exp'"}],"mark":{"type":"line","color":"#2d7fc1","strokeWidth":2,"interpolate":"monotone"},"encoding":{"x":{"field":"d","type":"quantitative"},"y":{"field":"v","type":"quantitative"}}},
{"data":{"name":"cur"},"transform":[{"filter":"datum.p=='bE' && datum.s=='steady'"}],"mark":{"type":"line","color":"#26a94a","strokeWidth":2},"encoding":{"x":{"field":"d","type":"quantitative"},"y":{"field":"v","type":"quantitative"}}},
{"data":{"name":"cur"},"transform":[{"filter":"datum.p=='bE' && datum.s=='calc'"}],"mark":{"type":"line","color":"#e8141c","strokeWidth":2.5,"interpolate":"monotone"},"encoding":{"x":{"field":"d","type":"quantitative"},"y":{"field":"v","type":"quantitative"}}},
{"data":{"name":"lab"},"transform":[{"filter":"datum.p=='bE' && (datum.k=='obs' || datum.k=='calc' || datum.k=='exp')"}],"mark":{"type":"text","fontSize":11},"encoding":{"x":{"field":"d","type":"quantitative"},"y":{"field":"v","type":"quantitative"},"text":{"field":"t"},"color":{"field":"k","type":"nominal","scale":{"domain":["obs","calc","log","exp","steady"],"range":["#2a2a2a","#e8141c","#93332b","#2d7fc1","#24a848"]},"legend":null}}},
{"data":{"name":"lab"},"transform":[{"filter":"datum.p=='bE' && datum.k=='log'"}],"mark":{"type":"text","fontSize":11,"angle":332,"color":"#93332b"},"encoding":{"x":{"field":"d","type":"quantitative"},"y":{"field":"v","type":"quantitative"},"text":{"field":"t"}}},
{"data":{"name":"lab"},"transform":[{"filter":"datum.p=='bE' && datum.k=='steady'"}],"mark":{"type":"text","fontSize":11,"angle":7,"color":"#24a848"},"encoding":{"x":{"field":"d","type":"quantitative"},"y":{"field":"v","type":"quantitative"},"text":{"field":"t"}}},
{"data":{"name":"arr"},"mark":{"type":"rule","color":"#111","strokeWidth":1.5},"encoding":{"x":{"field":"a","type":"quantitative"},"x2":{"field":"b"},"y":{"datum":1.209,"type":"quantitative"}}},
{"data":{"name":"arr"},"mark":{"type":"point","shape":"triangle-left","filled":true,"color":"#111","size":30,"opacity":1},"encoding":{"x":{"field":"a","type":"quantitative"},"y":{"datum":1.209,"type":"quantitative"}}},
{"data":{"name":"arr"},"mark":{"type":"point","shape":"triangle-right","filled":true,"color":"#111","size":30,"opacity":1},"encoding":{"x":{"field":"b","type":"quantitative"},"y":{"datum":1.209,"type":"quantitative"}}},
{"data":{"name":"arrt"},"mark":{"type":"text","fontSize":11.3,"color":"#111"},"encoding":{"x":{"field":"c","type":"quantitative"},"y":{"datum":1.16,"type":"quantitative"},"text":{"field":"t"}}},
{"data":{"name":"nm"},"transform":[{"filter":"datum.p=='bE'"}],"mark":{"type":"text","align":"left","fontSize":16.5,"fontWeight":"bold","color":"#111"},"encoding":{"x":{"datum":45,"type":"quantitative"},"y":{"datum":1.032,"type":"quantitative"},"text":{"field":"l"}}},
{"data":{"name":"nm"},"transform":[{"filter":"datum.p=='bE'"}],"mark":{"type":"text","align":"left","fontSize":16.5,"color":"#111"},"encoding":{"x":{"datum":150,"type":"quantitative"},"y":{"datum":1.032,"type":"quantitative"},"text":{"field":"n"}}},
{"data":{"name":"nm"},"transform":[{"filter":"datum.p=='bE'"}],"mark":{"type":"text","fontSize":9,"color":"#222"},"encoding":{"x":{"datum":-119,"type":"quantitative"},"y":{"datum":1.196,"type":"quantitative"},"text":{"field":"u"}}}
]},
{"width":290,"height":123,"layer":[
{"data":{"name":"fit"},"mark":{"type":"rect","color":"#fbdde9","opacity":0.75},"encoding":{"x":{"field":"a","type":"quantitative","scale":{"domain":[0,1690],"nice":false,"zero":false},"axis":{"values":[0,200,296,400,600,662,800,890,1000,1027,1200,1392,1400,1600,1690],"tickCount":50,"labelExpr":"datum.value==296?'2012':datum.value==662?'2013':datum.value==1027?'2014':datum.value==1392?'2015':datum.value==890?'year':''","title":null,"grid":true,"gridOpacity":{"condition":{"test":"datum.value%200==0 && datum.value>0","value":1},"value":0},"domain":false,"ticks":false,"tickSize":0,"offset":7,"labelFontSize":9.5,"labelPadding":6,"labelColor":"#111","labelFlush":false,"labelOverlap":false}},"x2":{"field":"b"}}},
{"data":{"name":"band"},"transform":[{"filter":"datum.p=='aU' && datum.s=='pred'"}],"mark":{"type":"area","color":"#8e8e8e","stroke":"#8e8e8e","strokeWidth":3,"strokeJoin":"round"},"encoding":{"x":{"field":"d","type":"quantitative"},"y":{"field":"lo","type":"quantitative","scale":{"domain":[-0.6,-0.1],"nice":false,"zero":false},"axis":{"values":[-0.6,-0.5,-0.4,-0.3,-0.2,-0.1],"tickCount":50,"domain":false,"ticks":false,"labelExpr":"''+datum.value","title":"Up displacement","titleFontSize":11.5,"titleX":-37.5,"titleY":66.5,"titleBaseline":"middle","labelFontSize":11.5,"labelPadding":10,"labelOverlap":false,"grid":true}},"y2":{"field":"hi"}}},
{"data":{"name":"band"},"transform":[{"filter":"datum.p=='aU' && datum.s=='fit'"}],"mark":{"type":"area","color":"#121212","stroke":"#121212","strokeWidth":3,"strokeJoin":"round"},"encoding":{"x":{"field":"d","type":"quantitative"},"y":{"field":"lo","type":"quantitative"},"y2":{"field":"hi"}}},
{"data":{"name":"dots"},"transform":[{"filter":"datum.p=='aU' && datum.s=='fit'"}],"mark":{"type":"circle","color":"#121212","size":22,"opacity":1},"encoding":{"x":{"field":"d","type":"quantitative"},"y":{"field":"v","type":"quantitative"}}},
{"data":{"name":"cur"},"transform":[{"filter":"datum.p=='aU' && datum.s=='log'"}],"mark":{"type":"line","color":"#9b4a2c","strokeWidth":2,"interpolate":"monotone"},"encoding":{"x":{"field":"d","type":"quantitative"},"y":{"field":"v","type":"quantitative"}}},
{"data":{"name":"cur"},"transform":[{"filter":"datum.p=='aU' && datum.s=='exp'"}],"mark":{"type":"line","color":"#2d7fc1","strokeWidth":2,"interpolate":"monotone"},"encoding":{"x":{"field":"d","type":"quantitative"},"y":{"field":"v","type":"quantitative"}}},
{"data":{"name":"cur"},"transform":[{"filter":"datum.p=='aU' && datum.s=='steady'"}],"mark":{"type":"line","color":"#26a94a","strokeWidth":2},"encoding":{"x":{"field":"d","type":"quantitative"},"y":{"field":"v","type":"quantitative"}}},
{"data":{"name":"cur"},"transform":[{"filter":"datum.p=='aU' && datum.s=='calc'"}],"mark":{"type":"line","color":"#e8141c","strokeWidth":2.5,"interpolate":"monotone"},"encoding":{"x":{"field":"d","type":"quantitative"},"y":{"field":"v","type":"quantitative"}}},
{"data":{"name":"lab"},"transform":[{"filter":"datum.p=='aU' && datum.k!='calc'"}],"mark":{"type":"text","fontSize":11},"encoding":{"x":{"field":"d","type":"quantitative"},"y":{"field":"v","type":"quantitative"},"text":{"field":"t"},"color":{"field":"k","type":"nominal","scale":{"domain":["obs","calc","log","exp","steady"],"range":["#2a2a2a","#e8141c","#93332b","#2d7fc1","#24a848"]},"legend":null}}},
{"data":{"name":"lab"},"transform":[{"filter":"datum.p=='aU' && datum.k=='calc'"}],"mark":{"type":"text","fontSize":11,"angle":356,"color":"#e8141c"},"encoding":{"x":{"field":"d","type":"quantitative"},"y":{"field":"v","type":"quantitative"},"text":{"field":"t"}}},
{"data":{"name":"span"},"mark":{"type":"rule","color":"#111","strokeWidth":1.5},"encoding":{"x":{"field":"a","type":"quantitative"},"x2":{"field":"b"},"y":{"datum":-0.6285,"type":"quantitative"}}},
{"data":{"name":"yrs"},"mark":{"type":"rule","color":"#111","strokeWidth":1.5},"encoding":{"x":{"field":"d","type":"quantitative"},"y":{"datum":-0.6183,"type":"quantitative"},"y2":{"datum":-0.6427}}}
]},
{"width":290,"height":123,"layer":[
{"data":{"name":"fit"},"mark":{"type":"rect","color":"#fbdde9","opacity":0.75},"encoding":{"x":{"field":"a","type":"quantitative","scale":{"domain":[0,1690],"nice":false,"zero":false},"axis":{"values":[0,200,296,400,600,662,800,890,1000,1027,1200,1392,1400,1600,1690],"tickCount":50,"labelExpr":"datum.value==296?'2012':datum.value==662?'2013':datum.value==1027?'2014':datum.value==1392?'2015':datum.value==890?'year':''","title":null,"grid":true,"gridOpacity":{"condition":{"test":"datum.value%200==0 && datum.value>0","value":1},"value":0},"domain":false,"ticks":false,"tickSize":0,"offset":7,"labelFontSize":9.5,"labelPadding":6,"labelColor":"#111","labelFlush":false,"labelOverlap":false}},"x2":{"field":"b"}}},
{"data":{"name":"band"},"transform":[{"filter":"datum.p=='bU' && datum.s=='pred'"}],"mark":{"type":"area","color":"#8e8e8e","stroke":"#8e8e8e","strokeWidth":3,"strokeJoin":"round"},"encoding":{"x":{"field":"d","type":"quantitative"},"y":{"field":"lo","type":"quantitative","scale":{"domain":[-0.2,0.1],"nice":false,"zero":false},"axis":{"values":[-0.2,-0.1,0,0.1],"tickCount":50,"domain":false,"ticks":false,"labelExpr":"''+datum.value","title":"Up displacement","titleFontSize":11.5,"titleX":-37.5,"titleY":66.5,"titleBaseline":"middle","labelFontSize":11.5,"labelPadding":9,"labelOverlap":false,"grid":true}},"y2":{"field":"hi"}}},
{"data":{"name":"band"},"transform":[{"filter":"datum.p=='bU' && datum.s=='fit'"}],"mark":{"type":"area","color":"#121212","stroke":"#121212","strokeWidth":3,"strokeJoin":"round"},"encoding":{"x":{"field":"d","type":"quantitative"},"y":{"field":"lo","type":"quantitative"},"y2":{"field":"hi"}}},
{"data":{"name":"dots"},"transform":[{"filter":"datum.p=='bU' && datum.s=='fit'"}],"mark":{"type":"circle","color":"#121212","size":22,"opacity":1},"encoding":{"x":{"field":"d","type":"quantitative"},"y":{"field":"v","type":"quantitative"}}},
{"data":{"name":"cur"},"transform":[{"filter":"datum.p=='bU' && datum.s=='log'"}],"mark":{"type":"line","color":"#9b4a2c","strokeWidth":2,"interpolate":"monotone"},"encoding":{"x":{"field":"d","type":"quantitative"},"y":{"field":"v","type":"quantitative"}}},
{"data":{"name":"cur"},"transform":[{"filter":"datum.p=='bU' && datum.s=='exp'"}],"mark":{"type":"line","color":"#2d7fc1","strokeWidth":2},"encoding":{"x":{"field":"d","type":"quantitative"},"y":{"field":"v","type":"quantitative"}}},
{"data":{"name":"cur"},"transform":[{"filter":"datum.p=='bU' && datum.s=='steady'"}],"mark":{"type":"line","color":"#26a94a","strokeWidth":2},"encoding":{"x":{"field":"d","type":"quantitative"},"y":{"field":"v","type":"quantitative"}}},
{"data":{"name":"cur"},"transform":[{"filter":"datum.p=='bU' && datum.s=='calc'"}],"mark":{"type":"line","color":"#e8141c","strokeWidth":2.5,"interpolate":"monotone"},"encoding":{"x":{"field":"d","type":"quantitative"},"y":{"field":"v","type":"quantitative"}}},
{"data":{"name":"lab"},"transform":[{"filter":"datum.p=='bU' && datum.k!='steady'"}],"mark":{"type":"text","fontSize":11},"encoding":{"x":{"field":"d","type":"quantitative"},"y":{"field":"v","type":"quantitative"},"text":{"field":"t"},"color":{"field":"k","type":"nominal","scale":{"domain":["obs","calc","log","exp","steady"],"range":["#2a2a2a","#e8141c","#93332b","#2d7fc1","#24a848"]},"legend":null}}},
{"data":{"name":"lab"},"transform":[{"filter":"datum.p=='bU' && datum.k=='steady'"}],"mark":{"type":"text","fontSize":11,"angle":4,"color":"#24a848"},"encoding":{"x":{"field":"d","type":"quantitative"},"y":{"field":"v","type":"quantitative"},"text":{"field":"t"}}},
{"data":{"name":"span"},"mark":{"type":"rule","color":"#111","strokeWidth":1.5},"encoding":{"x":{"field":"a","type":"quantitative"},"x2":{"field":"b"},"y":{"datum":-0.2171,"type":"quantitative"}}},
{"data":{"name":"yrs"},"mark":{"type":"rule","color":"#111","strokeWidth":1.5},"encoding":{"x":{"field":"d","type":"quantitative"},"y":{"datum":-0.211,"type":"quantitative"},"y2":{"datum":-0.2256}}}
]}
],"columns":2,"bounds":"flush","spacing":{"row":38,"column":55},"resolve":{"scale":{"x":"independent","y":"independent"}}},
{"concat":[
{"width":290,"height":124,"layer":[
{"data":{"name":"fit"},"mark":{"type":"rect","color":"#fbdde9","opacity":0.75},"encoding":{"x":{"field":"a","type":"quantitative","scale":{"domain":[0,1690],"nice":false,"zero":false},"axis":{"values":[0,200,400,600,800,1000,1200,1400,1600],"tickCount":50,"format":"d","domain":false,"ticks":false,"labelOverlap":false,"title":"Days from the main shock","titleFontSize":8,"titleFontWeight":"bold","titlePadding":1,"titleColor":"#111","labelFontSize":11,"labelPadding":9,"labelFlush":false,"labelColor":"#222","grid":true}},"x2":{"field":"b"}}},
{"data":{"name":"cur"},"transform":[{"filter":"datum.p=='cE' && datum.s=='obspred'"}],"mark":{"type":"line","color":"#8e8e8e","strokeWidth":5,"interpolate":"monotone"},"encoding":{"x":{"field":"d","type":"quantitative"},"y":{"field":"v","type":"quantitative","scale":{"domain":[1.5,3],"nice":false,"zero":false},"axis":{"values":[1.5,1.6,1.7,1.8,1.9,2,2.1,2.2,2.3,2.4,2.5,2.6,2.7,2.8,2.9,3],"tickCount":50,"domain":false,"ticks":false,"labelExpr":"''+datum.value","title":"East displacement","titleFontSize":12,"titleX":-37.5,"titleY":74,"titleBaseline":"middle","labelFontSize":7.5,"labelPadding":11,"labelOverlap":false,"grid":true}}}},
{"data":{"name":"cur"},"transform":[{"filter":"datum.p=='cE' && datum.s=='obsfit'"}],"mark":{"type":"line","color":"#121212","strokeWidth":5,"interpolate":"monotone"},"encoding":{"x":{"field":"d","type":"quantitative"},"y":{"field":"v","type":"quantitative"}}},
{"data":{"name":"dots"},"transform":[{"filter":"datum.p=='cE'"}],"mark":{"type":"circle","color":"#121212","size":22,"opacity":1},"encoding":{"x":{"field":"d","type":"quantitative"},"y":{"field":"v","type":"quantitative"}}},
{"data":{"name":"cur"},"transform":[{"filter":"datum.p=='cE' && datum.s=='log'"}],"mark":{"type":"line","color":"#9b4a2c","strokeWidth":2,"interpolate":"monotone"},"encoding":{"x":{"field":"d","type":"quantitative"},"y":{"field":"v","type":"quantitative"}}},
{"data":{"name":"cur"},"transform":[{"filter":"datum.p=='cE' && datum.s=='exp'"}],"mark":{"type":"line","color":"#2d7fc1","strokeWidth":2,"interpolate":"monotone"},"encoding":{"x":{"field":"d","type":"quantitative"},"y":{"field":"v","type":"quantitative"}}},
{"data":{"name":"cur"},"transform":[{"filter":"datum.p=='cE' && datum.s=='steady'"}],"mark":{"type":"line","color":"#26a94a","strokeWidth":2},"encoding":{"x":{"field":"d","type":"quantitative"},"y":{"field":"v","type":"quantitative"}}},
{"data":{"name":"cur"},"transform":[{"filter":"datum.p=='cE' && datum.s=='calc'"}],"mark":{"type":"line","color":"#e8141c","strokeWidth":2.5,"interpolate":"monotone"},"encoding":{"x":{"field":"d","type":"quantitative"},"y":{"field":"v","type":"quantitative"}}},
{"data":{"name":"lab"},"transform":[{"filter":"datum.p=='cE' && (datum.k=='log' || datum.k=='exp')"}],"mark":{"type":"text","fontSize":11},"encoding":{"x":{"field":"d","type":"quantitative"},"y":{"field":"v","type":"quantitative"},"text":{"field":"t"},"color":{"field":"k","type":"nominal","scale":{"domain":["obs","calc","log","exp","steady"],"range":["#2a2a2a","#e8141c","#93332b","#2d7fc1","#24a848"]},"legend":null}}},
{"data":{"name":"lab"},"transform":[{"filter":"datum.p=='cE' && datum.k=='obs'"}],"mark":{"type":"text","fontSize":11,"angle":352,"color":"#2a2a2a"},"encoding":{"x":{"field":"d","type":"quantitative"},"y":{"field":"v","type":"quantitative"},"text":{"field":"t"}}},
{"data":{"name":"lab"},"transform":[{"filter":"datum.p=='cE' && datum.k=='calc'"}],"mark":{"type":"text","fontSize":11,"angle":356,"color":"#e8141c"},"encoding":{"x":{"field":"d","type":"quantitative"},"y":{"field":"v","type":"quantitative"},"text":{"field":"t"}}},
{"data":{"name":"lab"},"transform":[{"filter":"datum.p=='cE' && datum.k=='steady'"}],"mark":{"type":"text","fontSize":11,"angle":3,"color":"#24a848"},"encoding":{"x":{"field":"d","type":"quantitative"},"y":{"field":"v","type":"quantitative"},"text":{"field":"t"}}},
{"data":{"name":"arr"},"mark":{"type":"rule","color":"#111","strokeWidth":1.5},"encoding":{"x":{"field":"a","type":"quantitative"},"x2":{"field":"b"},"y":{"datum":3.197,"type":"quantitative"}}},
{"data":{"name":"arr"},"mark":{"type":"point","shape":"triangle-left","filled":true,"color":"#111","size":30,"opacity":1},"encoding":{"x":{"field":"a","type":"quantitative"},"y":{"datum":3.197,"type":"quantitative"}}},
{"data":{"name":"arr"},"mark":{"type":"point","shape":"triangle-right","filled":true,"color":"#111","size":30,"opacity":1},"encoding":{"x":{"field":"b","type":"quantitative"},"y":{"datum":3.197,"type":"quantitative"}}},
{"data":{"name":"arrt"},"mark":{"type":"text","fontSize":11.3,"color":"#111"},"encoding":{"x":{"field":"c","type":"quantitative"},"y":{"datum":3.105,"type":"quantitative"},"text":{"field":"t"}}},
{"data":{"name":"nm"},"transform":[{"filter":"datum.p=='cE'"}],"mark":{"type":"text","align":"left","fontSize":16.5,"fontWeight":"bold","color":"#111"},"encoding":{"x":{"datum":45,"type":"quantitative"},"y":{"datum":2.863,"type":"quantitative"},"text":{"field":"l"}}},
{"data":{"name":"nm"},"transform":[{"filter":"datum.p=='cE'"}],"mark":{"type":"text","align":"left","fontSize":16.5,"color":"#111"},"encoding":{"x":{"datum":155,"type":"quantitative"},"y":{"datum":2.863,"type":"quantitative"},"text":{"field":"n"}}},
{"data":{"name":"nm"},"transform":[{"filter":"datum.p=='cE'"}],"mark":{"type":"text","fontSize":9,"color":"#222"},"encoding":{"x":{"datum":-125,"type":"quantitative"},"y":{"datum":3.145,"type":"quantitative"},"text":{"field":"u"}}}
]},
{"width":290,"height":124,"layer":[
{"data":{"name":"fit"},"mark":{"type":"rect","color":"#fbdde9","opacity":0.75},"encoding":{"x":{"field":"a","type":"quantitative","scale":{"domain":[0,1690],"nice":false,"zero":false},"axis":{"values":[0,200,400,600,800,1000,1200,1400,1600],"tickCount":50,"format":"d","domain":false,"ticks":false,"labelOverlap":false,"title":"Days from the main shock","titleFontSize":8,"titleFontWeight":"bold","titlePadding":1,"titleColor":"#111","labelFontSize":11,"labelPadding":9,"labelFlush":false,"labelColor":"#222","grid":true}},"x2":{"field":"b"}}},
{"data":{"name":"cur"},"transform":[{"filter":"datum.p=='dE' && datum.s=='obspred'"}],"mark":{"type":"line","color":"#8e8e8e","strokeWidth":5,"interpolate":"monotone"},"encoding":{"x":{"field":"d","type":"quantitative"},"y":{"field":"v","type":"quantitative","scale":{"domain":[1.4,2.7],"nice":false,"zero":false},"axis":{"values":[1.4,1.5,1.6,1.7,1.8,1.9,2,2.1,2.2,2.3,2.4,2.5,2.6,2.7],"tickCount":50,"domain":false,"ticks":false,"labelExpr":"''+datum.value","title":"East displacement","titleFontSize":12,"titleX":-37.5,"titleY":74,"titleBaseline":"middle","labelFontSize":9,"labelPadding":11,"labelOverlap":false,"grid":true}}}},
{"data":{"name":"cur"},"transform":[{"filter":"datum.p=='dE' && datum.s=='obsfit'"}],"mark":{"type":"line","color":"#121212","strokeWidth":5,"interpolate":"monotone"},"encoding":{"x":{"field":"d","type":"quantitative"},"y":{"field":"v","type":"quantitative"}}},
{"data":{"name":"cur"},"transform":[{"filter":"datum.p=='dE' && datum.s=='log'"}],"mark":{"type":"line","color":"#9b4a2c","strokeWidth":2,"interpolate":"monotone"},"encoding":{"x":{"field":"d","type":"quantitative"},"y":{"field":"v","type":"quantitative"}}},
{"data":{"name":"cur"},"transform":[{"filter":"datum.p=='dE' && datum.s=='exp'"}],"mark":{"type":"line","color":"#2d7fc1","strokeWidth":2,"interpolate":"monotone"},"encoding":{"x":{"field":"d","type":"quantitative"},"y":{"field":"v","type":"quantitative"}}},
{"data":{"name":"cur"},"transform":[{"filter":"datum.p=='dE' && datum.s=='steady'"}],"mark":{"type":"line","color":"#26a94a","strokeWidth":2},"encoding":{"x":{"field":"d","type":"quantitative"},"y":{"field":"v","type":"quantitative"}}},
{"data":{"name":"cur"},"transform":[{"filter":"datum.p=='dE' && datum.s=='calc'"}],"mark":{"type":"line","color":"#e8141c","strokeWidth":2.5,"interpolate":"monotone"},"encoding":{"x":{"field":"d","type":"quantitative"},"y":{"field":"v","type":"quantitative"}}},
{"data":{"name":"lab"},"transform":[{"filter":"datum.p=='dE' && (datum.k=='calc' || datum.k=='log' || datum.k=='exp')"}],"mark":{"type":"text","fontSize":11},"encoding":{"x":{"field":"d","type":"quantitative"},"y":{"field":"v","type":"quantitative"},"text":{"field":"t"},"color":{"field":"k","type":"nominal","scale":{"domain":["obs","calc","log","exp","steady"],"range":["#2a2a2a","#e8141c","#93332b","#2d7fc1","#24a848"]},"legend":null}}},
{"data":{"name":"lab"},"transform":[{"filter":"datum.p=='dE' && datum.k=='obs'"}],"mark":{"type":"text","fontSize":11,"angle":350,"color":"#2a2a2a"},"encoding":{"x":{"field":"d","type":"quantitative"},"y":{"field":"v","type":"quantitative"},"text":{"field":"t"}}},
{"data":{"name":"lab"},"transform":[{"filter":"datum.p=='dE' && datum.k=='steady'"}],"mark":{"type":"text","fontSize":11,"angle":4,"color":"#24a848"},"encoding":{"x":{"field":"d","type":"quantitative"},"y":{"field":"v","type":"quantitative"},"text":{"field":"t"}}},
{"data":{"name":"arr"},"mark":{"type":"rule","color":"#111","strokeWidth":1.5},"encoding":{"x":{"field":"a","type":"quantitative"},"x2":{"field":"b"},"y":{"datum":2.871,"type":"quantitative"}}},
{"data":{"name":"arr"},"mark":{"type":"point","shape":"triangle-left","filled":true,"color":"#111","size":30,"opacity":1},"encoding":{"x":{"field":"a","type":"quantitative"},"y":{"datum":2.871,"type":"quantitative"}}},
{"data":{"name":"arr"},"mark":{"type":"point","shape":"triangle-right","filled":true,"color":"#111","size":30,"opacity":1},"encoding":{"x":{"field":"b","type":"quantitative"},"y":{"datum":2.871,"type":"quantitative"}}},
{"data":{"name":"arrt"},"mark":{"type":"text","fontSize":11.3,"color":"#111"},"encoding":{"x":{"field":"c","type":"quantitative"},"y":{"datum":2.791,"type":"quantitative"},"text":{"field":"t"}}},
{"data":{"name":"nm"},"transform":[{"filter":"datum.p=='dE'"}],"mark":{"type":"text","align":"left","fontSize":16.5,"fontWeight":"bold","color":"#111"},"encoding":{"x":{"datum":45,"type":"quantitative"},"y":{"datum":2.582,"type":"quantitative"},"text":{"field":"l"}}},
{"data":{"name":"nm"},"transform":[{"filter":"datum.p=='dE'"}],"mark":{"type":"text","align":"left","fontSize":16.5,"color":"#111"},"encoding":{"x":{"datum":162,"type":"quantitative"},"y":{"datum":2.582,"type":"quantitative"},"text":{"field":"n"}}},
{"data":{"name":"nm"},"transform":[{"filter":"datum.p=='dE'"}],"mark":{"type":"text","fontSize":9,"color":"#222"},"encoding":{"x":{"datum":-110,"type":"quantitative"},"y":{"datum":2.836,"type":"quantitative"},"text":{"field":"u"}}}
]},
{"width":290,"height":122,"layer":[
{"data":{"name":"fit"},"mark":{"type":"rect","color":"#fbdde9","opacity":0.75},"encoding":{"x":{"field":"a","type":"quantitative","scale":{"domain":[0,1690],"nice":false,"zero":false},"axis":{"values":[0,200,296,400,600,662,800,890,1000,1027,1200,1392,1400,1600,1690],"tickCount":50,"labelExpr":"datum.value==296?'2012':datum.value==662?'2013':datum.value==1027?'2014':datum.value==1392?'2015':datum.value==890?'year':''","title":null,"grid":true,"gridOpacity":{"condition":{"test":"datum.value%200==0 && datum.value>0","value":1},"value":0},"domain":false,"ticks":false,"tickSize":0,"offset":7,"labelFontSize":9.5,"labelPadding":6,"labelColor":"#111","labelFlush":false,"labelOverlap":false}},"x2":{"field":"b"}}},
{"data":{"name":"band"},"transform":[{"filter":"datum.p=='cU' && datum.s=='pred'"}],"mark":{"type":"area","color":"#8e8e8e","stroke":"#8e8e8e","strokeWidth":3,"strokeJoin":"round"},"encoding":{"x":{"field":"d","type":"quantitative"},"y":{"field":"lo","type":"quantitative","scale":{"domain":[-0.6,-0.1],"nice":false,"zero":false},"axis":{"values":[-0.6,-0.5,-0.4,-0.3,-0.2,-0.1],"tickCount":50,"domain":false,"ticks":false,"labelExpr":"''+datum.value","title":"Up displacement","titleFontSize":11.5,"titleX":-37.5,"titleY":66,"titleBaseline":"middle","labelFontSize":11.5,"labelPadding":10,"labelOverlap":false,"grid":true}},"y2":{"field":"hi"}}},
{"data":{"name":"band"},"transform":[{"filter":"datum.p=='cU' && datum.s=='fit'"}],"mark":{"type":"area","color":"#121212","stroke":"#121212","strokeWidth":3,"strokeJoin":"round"},"encoding":{"x":{"field":"d","type":"quantitative"},"y":{"field":"lo","type":"quantitative"},"y2":{"field":"hi"}}},
{"data":{"name":"dots"},"transform":[{"filter":"datum.p=='cU' && datum.s=='fit'"}],"mark":{"type":"circle","color":"#121212","size":22,"opacity":1},"encoding":{"x":{"field":"d","type":"quantitative"},"y":{"field":"v","type":"quantitative"}}},
{"data":{"name":"dots"},"transform":[{"filter":"datum.p=='cU' && datum.s=='pred'"}],"mark":{"type":"circle","color":"#8e8e8e","size":30,"opacity":1},"encoding":{"x":{"field":"d","type":"quantitative"},"y":{"field":"v","type":"quantitative"}}},
{"data":{"name":"cur"},"transform":[{"filter":"datum.p=='cU' && datum.s=='log'"}],"mark":{"type":"line","color":"#9b4a2c","strokeWidth":2,"interpolate":"monotone"},"encoding":{"x":{"field":"d","type":"quantitative"},"y":{"field":"v","type":"quantitative"}}},
{"data":{"name":"cur"},"transform":[{"filter":"datum.p=='cU' && datum.s=='exp'"}],"mark":{"type":"line","color":"#2d7fc1","strokeWidth":2,"interpolate":"monotone"},"encoding":{"x":{"field":"d","type":"quantitative"},"y":{"field":"v","type":"quantitative"}}},
{"data":{"name":"cur"},"transform":[{"filter":"datum.p=='cU' && datum.s=='steady'"}],"mark":{"type":"line","color":"#26a94a","strokeWidth":2},"encoding":{"x":{"field":"d","type":"quantitative"},"y":{"field":"v","type":"quantitative"}}},
{"data":{"name":"cur"},"transform":[{"filter":"datum.p=='cU' && datum.s=='calc'"}],"mark":{"type":"line","color":"#e8141c","strokeWidth":2.5,"interpolate":"monotone"},"encoding":{"x":{"field":"d","type":"quantitative"},"y":{"field":"v","type":"quantitative"}}},
{"data":{"name":"lab"},"transform":[{"filter":"datum.p=='cU'"}],"mark":{"type":"text","fontSize":11},"encoding":{"x":{"field":"d","type":"quantitative"},"y":{"field":"v","type":"quantitative"},"text":{"field":"t"},"color":{"field":"k","type":"nominal","scale":{"domain":["obs","calc","log","exp","steady"],"range":["#2a2a2a","#e8141c","#93332b","#2d7fc1","#24a848"]},"legend":null}}},
{"data":{"name":"span"},"mark":{"type":"rule","color":"#111","strokeWidth":1.5},"encoding":{"x":{"field":"a","type":"quantitative"},"x2":{"field":"b"},"y":{"datum":-0.6287,"type":"quantitative"}}},
{"data":{"name":"yrs"},"mark":{"type":"rule","color":"#111","strokeWidth":1.5},"encoding":{"x":{"field":"d","type":"quantitative"},"y":{"datum":-0.6184,"type":"quantitative"},"y2":{"datum":-0.643}}}
]},
{"width":290,"height":122,"layer":[
{"data":{"name":"fit"},"mark":{"type":"rect","color":"#fbdde9","opacity":0.75},"encoding":{"x":{"field":"a","type":"quantitative","scale":{"domain":[0,1690],"nice":false,"zero":false},"axis":{"values":[0,200,296,400,600,662,800,890,1000,1027,1200,1392,1400,1600,1690],"tickCount":50,"labelExpr":"datum.value==296?'2012':datum.value==662?'2013':datum.value==1027?'2014':datum.value==1392?'2015':datum.value==890?'year':''","title":null,"grid":true,"gridOpacity":{"condition":{"test":"datum.value%200==0 && datum.value>0","value":1},"value":0},"domain":false,"ticks":false,"tickSize":0,"offset":7,"labelFontSize":9.5,"labelPadding":6,"labelColor":"#111","labelFlush":false,"labelOverlap":false}},"x2":{"field":"b"}}},
{"data":{"name":"band"},"transform":[{"filter":"datum.p=='dU' && datum.s=='pred'"}],"mark":{"type":"area","color":"#8e8e8e","stroke":"#8e8e8e","strokeWidth":3,"strokeJoin":"round"},"encoding":{"x":{"field":"d","type":"quantitative"},"y":{"field":"lo","type":"quantitative","scale":{"domain":[-0.4,0],"nice":false,"zero":false},"axis":{"values":[-0.4,-0.3,-0.2,-0.1,0],"tickCount":50,"domain":false,"ticks":false,"labelExpr":"''+datum.value","title":"Up displacement","titleFontSize":11.5,"titleX":-37.5,"titleY":66,"titleBaseline":"middle","labelFontSize":11.5,"labelPadding":12,"labelOverlap":false,"grid":true}},"y2":{"field":"hi"}}},
{"data":{"name":"band"},"transform":[{"filter":"datum.p=='dU' && datum.s=='fit'"}],"mark":{"type":"area","color":"#121212","stroke":"#121212","strokeWidth":3,"strokeJoin":"round"},"encoding":{"x":{"field":"d","type":"quantitative"},"y":{"field":"lo","type":"quantitative"},"y2":{"field":"hi"}}},
{"data":{"name":"dots"},"transform":[{"filter":"datum.p=='dU' && datum.s=='fit'"}],"mark":{"type":"circle","color":"#121212","size":30,"opacity":1},"encoding":{"x":{"field":"d","type":"quantitative"},"y":{"field":"v","type":"quantitative"}}},
{"data":{"name":"dots"},"transform":[{"filter":"datum.p=='dU' && datum.s=='pred'"}],"mark":{"type":"circle","color":"#8e8e8e","size":40,"opacity":1},"encoding":{"x":{"field":"d","type":"quantitative"},"y":{"field":"v","type":"quantitative"}}},
{"data":{"name":"cur"},"transform":[{"filter":"datum.p=='dU' && datum.s=='log'"}],"mark":{"type":"line","color":"#9b4a2c","strokeWidth":2,"interpolate":"monotone"},"encoding":{"x":{"field":"d","type":"quantitative"},"y":{"field":"v","type":"quantitative"}}},
{"data":{"name":"cur"},"transform":[{"filter":"datum.p=='dU' && datum.s=='exp'"}],"mark":{"type":"line","color":"#2d7fc1","strokeWidth":2,"interpolate":"monotone"},"encoding":{"x":{"field":"d","type":"quantitative"},"y":{"field":"v","type":"quantitative"}}},
{"data":{"name":"cur"},"transform":[{"filter":"datum.p=='dU' && datum.s=='steady'"}],"mark":{"type":"line","color":"#26a94a","strokeWidth":2},"encoding":{"x":{"field":"d","type":"quantitative"},"y":{"field":"v","type":"quantitative"}}},
{"data":{"name":"cur"},"transform":[{"filter":"datum.p=='dU' && datum.s=='calc'"}],"mark":{"type":"line","color":"#e8141c","strokeWidth":2.5,"interpolate":"monotone"},"encoding":{"x":{"field":"d","type":"quantitative"},"y":{"field":"v","type":"quantitative"}}},
{"data":{"name":"lab"},"transform":[{"filter":"datum.p=='dU'"}],"mark":{"type":"text","fontSize":11},"encoding":{"x":{"field":"d","type":"quantitative"},"y":{"field":"v","type":"quantitative"},"text":{"field":"t"},"color":{"field":"k","type":"nominal","scale":{"domain":["obs","calc","log","exp","steady"],"range":["#2a2a2a","#e8141c","#93332b","#2d7fc1","#24a848"]},"legend":null}}},
{"data":{"name":"span"},"mark":{"type":"rule","color":"#111","strokeWidth":1.5},"encoding":{"x":{"field":"a","type":"quantitative"},"x2":{"field":"b"},"y":{"datum":-0.423,"type":"quantitative"}}},
{"data":{"name":"yrs"},"mark":{"type":"rule","color":"#111","strokeWidth":1.5},"encoding":{"x":{"field":"d","type":"quantitative"},"y":{"datum":-0.4148,"type":"quantitative"},"y2":{"datum":-0.4344}}}
]}
],"columns":2,"bounds":"flush","spacing":{"row":41,"column":55},"resolve":{"scale":{"x":"independent","y":"independent"}}}
],
"resolve":{"scale":{"x":"independent","y":"independent"}}
}
